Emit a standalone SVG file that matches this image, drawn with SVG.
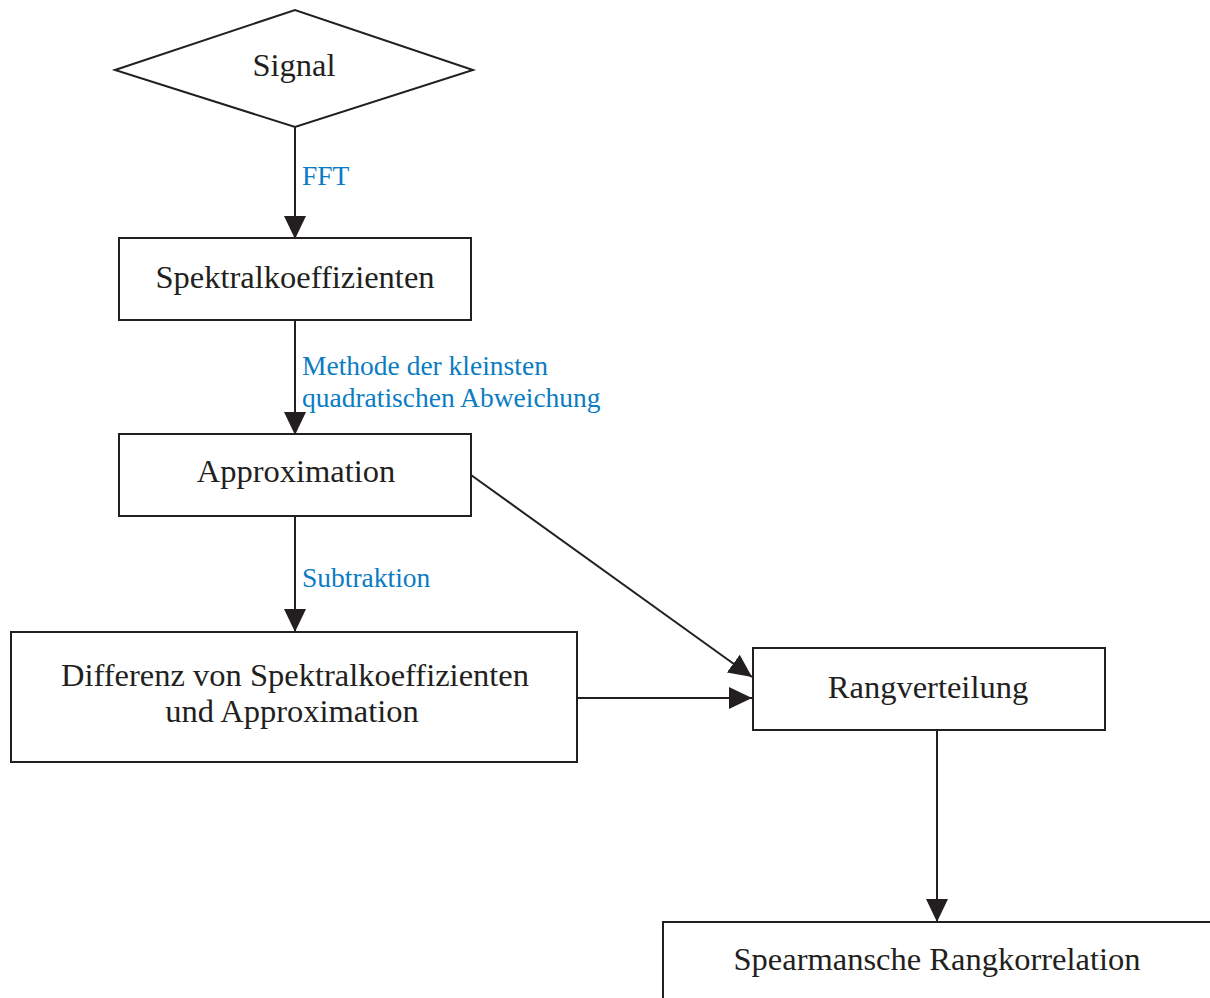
<svg xmlns="http://www.w3.org/2000/svg" width="1210" height="998" viewBox="0 0 1210 998">
<style>
.n{fill:#fff;stroke:#231f20;stroke-width:2}
.t{font-family:"Liberation Serif",serif;font-size:32.5px;fill:#231f20;text-anchor:middle}
.l{font-family:"Liberation Serif",serif;font-size:27.5px;fill:#0a7cc4}
.c{stroke:#231f20;stroke-width:2;fill:none}
</style>
<defs>
<marker id="ah" markerUnits="userSpaceOnUse" markerWidth="24" markerHeight="24" refX="23" refY="12" orient="auto">
<path d="M0,1 L23,12 L0,23 Z" fill="#231f20"/>
</marker>
</defs>
<rect width="1210" height="998" fill="#fff"/>
<g id="connectors">
<line class="c" x1="295" y1="127" x2="295" y2="239" marker-end="url(#ah)"/>
<line class="c" x1="295" y1="320" x2="295" y2="435" marker-end="url(#ah)"/>
<line class="c" x1="295" y1="516" x2="295" y2="632" marker-end="url(#ah)"/>
<line class="c" x1="577" y1="698" x2="752" y2="698" marker-end="url(#ah)"/>
<line class="c" x1="471" y1="475" x2="752" y2="677" marker-end="url(#ah)"/>
<line class="c" x1="937" y1="730" x2="937" y2="922" marker-end="url(#ah)"/>
<text class="l" x="302" y="185">FFT</text>
<text class="l" x="302" y="375">Methode der kleinsten</text>
<text class="l" x="302" y="407">quadratischen Abweichung</text>
<text class="l" x="302" y="587">Subtraktion</text>
</g>
<g id="signal">
<polygon class="n" points="115,70 295,10 473,70 295,127"/>
<text class="t" x="294" y="76">Signal</text>
</g>
<g id="spektral">
<rect class="n" x="119" y="238" width="352" height="82"/>
<text class="t" x="295" y="288">Spektralkoeffizienten</text>
</g>
<g id="approximation">
<rect class="n" x="119" y="434" width="352" height="82"/>
<text class="t" x="296" y="482">Approximation</text>
</g>
<g id="differenz">
<rect class="n" x="11" y="632" width="566" height="130"/>
<text class="t" x="295" y="686">Differenz von Spektralkoeffizienten</text>
<text class="t" x="292" y="722">und Approximation</text>
</g>
<g id="rangverteilung">
<rect class="n" x="753" y="648" width="352" height="82"/>
<text class="t" x="928" y="698">Rangverteilung</text>
</g>
<g id="spearman">
<rect class="n" x="663" y="922" width="560" height="90"/>
<text class="t" x="937" y="970">Spearmansche Rangkorrelation</text>
</g>
</svg>
